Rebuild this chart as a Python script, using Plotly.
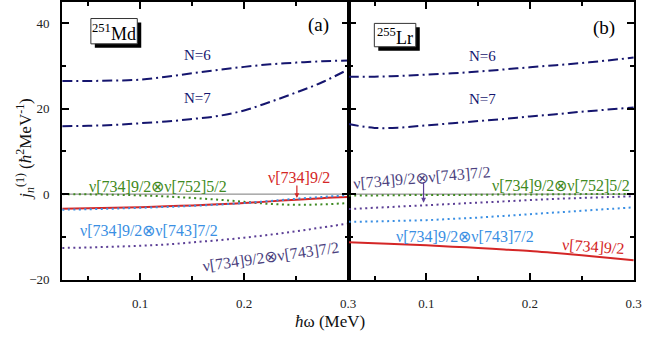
import plotly.graph_objects as go

# rotational frequency grid (MeV)
omega = [0.025, 0.05, 0.075, 0.1, 0.125, 0.15, 0.175, 0.2, 0.225, 0.25, 0.275, 0.3]

# 251Md, panel (a)
md_n6 = [26.5, 26.5, 26.6, 26.8, 27.5, 28.3, 29.1, 29.8, 30.4, 30.8, 31.1, 31.3]
md_n7 = [15.9, 16.0, 16.2, 16.6, 17.0, 17.6, 18.3, 19.6, 21.6, 23.8, 26.2, 29.2]
md_752 = [0.0, -0.05, -0.15, -0.3, -0.55, -0.9, -1.3, -1.8, -2.3, -2.5, -2.4, -2.1]
md_734 = [-3.4, -3.3, -3.2, -3.05, -2.85, -2.65, -2.4, -2.1, -1.7, -1.3, -0.95, -0.7]
md_743_blue = [-3.65, -3.55, -3.4, -3.2, -3.0, -2.75, -2.45, -2.1, -1.6, -1.1, -0.65, -0.3]
md_743_purple = [-12.6, -12.5, -12.3, -12.1, -11.8, -11.3, -10.8, -10.2, -9.5, -8.7, -7.8, -6.9]

# 255Lr, panel (b)
lr_n6 = [27.5, 27.5, 27.7, 28.0, 28.3, 28.7, 29.2, 29.7, 30.2, 30.7, 31.3, 32.0]
lr_n7 = [16.4, 15.5, 15.6, 16.1, 16.6, 17.1, 17.6, 18.2, 18.7, 19.3, 19.8, 20.3]
lr_752 = [-0.3, -0.3, -0.25, -0.2, -0.2, -0.15, -0.1, -0.1, -0.05, 0.0, 0.0, 0.0]
lr_743_purple = [-3.5, -3.2, -2.9, -2.6, -2.3, -2.0, -1.7, -1.4, -1.1, -0.9, -0.7, -0.5]
lr_743_blue = [-6.5, -6.4, -6.25, -6.1, -5.8, -5.5, -5.1, -4.7, -4.3, -3.9, -3.5, -3.1]
lr_734 = [-11.3, -11.5, -11.75, -12.0, -12.3, -12.6, -12.95, -13.3, -13.8, -14.3, -14.9, -15.5]

x_ticks = [0.1, 0.2, 0.3]
y_ticks = [-20, 0, 20, 40]

W, H = 650, 344
SERIF = "Liberation Serif, Times New Roman, serif"
NAVY = "#15156e"
GREEN = "#3f8a22"
RED = "#d42626"
BLUE = "#3a8fe3"
PURPLE = "#5c3f96"
PURPLE_TXT = "#4b3f7e"

DASHDOT = "10px,4px,2px,4px"
DOTTED = "2px,3.5px"

fig = go.Figure()


def add(xa, ya, y, color, dash, width=2):
    fig.add_trace(go.Scatter(x=omega, y=y, mode="lines", xaxis=xa, yaxis=ya,
                             line=dict(color=color, dash=dash, width=width, shape="spline"),
                             showlegend=False, hoverinfo="skip"))


for xa, ya in (("x", "y"), ("x2", "y2")):
    # zero reference line
    fig.add_trace(go.Scatter(x=[0.025, 0.3], y=[0, 0], mode="lines", xaxis=xa, yaxis=ya,
                             line=dict(color="#7a7a7a", width=1), showlegend=False,
                             hoverinfo="skip"))

add("x", "y", md_n6, NAVY, DASHDOT)
add("x", "y", md_n7, NAVY, DASHDOT)
add("x", "y", md_752, GREEN, DOTTED)
add("x", "y", md_743_purple, PURPLE, DOTTED)
add("x", "y", md_734, RED, "solid")
add("x", "y", md_743_blue, BLUE, DOTTED)

add("x2", "y2", lr_n6, NAVY, DASHDOT)
add("x2", "y2", lr_n7, NAVY, DASHDOT)
add("x2", "y2", lr_752, GREEN, DOTTED)
add("x2", "y2", lr_743_purple, PURPLE, DOTTED)
add("x2", "y2", lr_743_blue, BLUE, DOTTED)
add("x2", "y2", lr_734, RED, "solid")

axis_common = dict(showline=True, linecolor="black", linewidth=2, mirror="ticks",
                   ticks="inside", tickcolor="black", tickwidth=1.5, ticklen=7,
                   showgrid=False, zeroline=False,
                   tickfont=dict(family=SERIF, size=13, color="#222"))
minor_x = dict(tickvals=[0.05, 0.15, 0.25], ticks="inside", ticklen=4,
               tickcolor="black", tickwidth=1.5)
minor_y = dict(tickvals=[-10, 10, 30], ticks="inside", ticklen=4,
               tickcolor="black", tickwidth=1.5)

x_dom_a = [63 / W, 353 / W]
x_dom_b = [353 / W, 642 / W]
y_dom = [58 / H, 343 / H]

fig.update_layout(
    width=W, height=H, margin=dict(l=0, r=0, t=0, b=0),
    paper_bgcolor="white", plot_bgcolor="white",
    xaxis=dict(domain=x_dom_a, range=[0.025, 0.3005], tickvals=x_ticks,
               ticktext=["0.1", "0.2", "0.3"], ticklabelstandoff=11,
               minor=minor_x, anchor="y", **axis_common),
    xaxis2=dict(domain=x_dom_b, range=[0.025, 0.3005], tickvals=x_ticks,
                ticktext=["0.1", "0.2", "0.3"], ticklabelstandoff=11,
                minor=minor_x, anchor="y2", **axis_common),
    yaxis=dict(domain=y_dom, range=[-20, 45], tickvals=y_ticks, ticklabelstandoff=8,
               minor=minor_y, anchor="x", **axis_common),
    yaxis2=dict(domain=y_dom, range=[-20, 45], tickvals=y_ticks, showticklabels=False,
                minor=minor_y, anchor="x2", **axis_common),
)


def px_box(x0, y0, x1, y1, **kw):
    fig.add_shape(type="rect", xref="paper", yref="paper",
                  x0=x0 / W, x1=x1 / W, y0=1 - y1 / H, y1=1 - y0 / H, **kw)


# nucleus labels in boxes with a drop shadow
for (bx0, by0, bx1, by1) in ((92, 18, 139, 44), (379, 23, 421, 47)):
    px_box(bx0 + 4, by0 + 4, bx1 + 4, by1 + 4, fillcolor="black", line=dict(width=0),
           layer="above")
    px_box(bx0, by0, bx1, by1, fillcolor="white", line=dict(color="#333", width=1),
           layer="above")


def note(xref, x, y, text, color="black", size=15, angle=0):
    fig.add_annotation(xref=xref, yref="y" if xref == "x" else "y2", x=x, y=y,
                       text=text, showarrow=False, textangle=angle,
                       xanchor="center", yanchor="middle",
                       font=dict(family=SERIF, size=size, color=color))


NU = "ν"
lab_752 = f"{NU}[734]9/2⊗{NU}[752]5/2"
lab_743 = f"{NU}[734]9/2⊗{NU}[743]7/2"
lab_734 = f"{NU}[734]9/2"

note("x", 0.0748, 37.9, "<sup>251</sup>Md", size=18)
note("x", 0.2716, 39.5, "(a)", size=19)
note("x", 0.155, 32.6, "N=6", NAVY, 15)
note("x", 0.155, 22.6, "N=7", NAVY, 15)
note("x", 0.117, 1.9, lab_752, GREEN, 16)
note("x", 0.253, 4.0, lab_734, RED, 16)
note("x", 0.108, -8.6, lab_743, BLUE, 16)
note("x", 0.226, -14.6, lab_743, PURPLE_TXT, 16, angle=-8)

note("x2", 0.0697, 37.0, "<sup>255</sup>Lr", size=18)
note("x2", 0.271, 39.0, "(b)", size=19)
note("x2", 0.154, 32.4, "N=6", NAVY, 15)
note("x2", 0.154, 22.3, "N=7", NAVY, 15)
note("x2", 0.0954, 4.0, lab_743, PURPLE_TXT, 16, angle=-5)
note("x2", 0.2296, 2.0, lab_752, GREEN, 16)
note("x2", 0.137, -9.9, lab_743, BLUE, 16)
note("x2", 0.261, -12.3, lab_734, RED, 16, angle=4)

# pointers from labels to their curves
fig.add_annotation(xref="x", yref="y", x=0.2507, y=-0.9, ax=0, ay=-14, text="",
                   showarrow=True, arrowhead=2, arrowsize=0.8, arrowwidth=1.2,
                   arrowcolor=RED)
fig.add_annotation(xref="x2", yref="y2", x=0.0973, y=-2.0, ax=0, ay=-22, text="",
                   showarrow=True, arrowhead=2, arrowsize=0.8, arrowwidth=1.2,
                   arrowcolor=PURPLE)

# axis titles
fig.add_annotation(xref="paper", yref="paper", x=334 / W, y=1 - 329 / H,
                   xanchor="center", yanchor="middle",
                   text="<i>ħ</i>ω (MeV)", showarrow=False,
                   font=dict(family=SERIF, size=17, color="#111"))
fig.add_annotation(xref="paper", yref="paper", x=25 / W, y=1 - 152 / H, textangle=-90,
                   xanchor="center", yanchor="middle",
                   text="<i>j</i><sub><i>n</i></sub><sup>(1)</sup> (<i>ħ</i><sup>2</sup>MeV<sup>-1</sup>)",
                   showarrow=False, font=dict(family=SERIF, size=17, color="#111"))

fig.write_html("out.html")
